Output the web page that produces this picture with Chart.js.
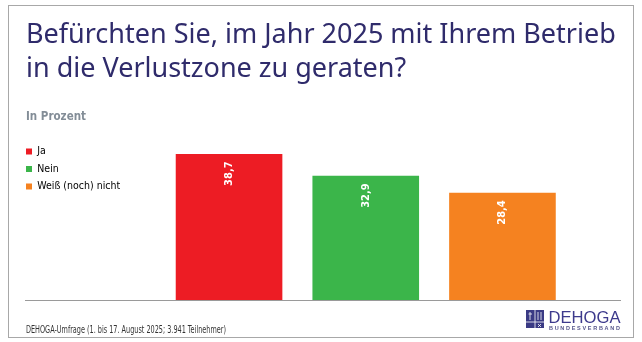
<!DOCTYPE html>
<html lang="de">
<head>
<meta charset="utf-8">
<script src="https://cdn.jsdelivr.net/npm/chart.js@4.4.1/dist/chart.umd.min.js"></script>
<style>
  html, body { margin: 0; padding: 0; background: #fff; }
  #wrap { width: 642px; height: 342px; }
</style>
</head>
<body>
<div id="wrap"><canvas id="chart" width="642" height="342"></canvas></div>
<script>
const TITLE_LINES = ["Befürchten Sie, im Jahr 2025 mit Ihrem Betrieb", "in die Verlustzone zu geraten?"];
const UNIT_LABEL = "In Prozent";
const CATEGORIES = ["Ja", "Nein", "Weiß (noch) nicht"];
const VALUES = [38.7, 32.9, 28.4];
const BAR_COLORS = ["#ed1c24", "#3bb54a", "#f58220"];
const SOURCE_NOTE = "DEHOGA-Umfrage (1. bis 17. August 2025; 3.941 Teilnehmer)";

const CONDENSED = '"DejaVu Sans Condensed", "Liberation Sans", sans-serif';
const PAD_LEFT = 26;
const PAD_RIGHT = 8;
const AREA_LEFT = 160.7;
const AREA_RIGHT = 570.8;

const framePlugin = {
  id: "frame",
  beforeDraw(chart) {
    const { ctx } = chart;
    ctx.save();
    ctx.fillStyle = "#fff";
    ctx.fillRect(0, 0, chart.width, chart.height);
    ctx.strokeStyle = "#a8a8a8";
    ctx.lineWidth = 1;
    ctx.strokeRect(8.5, 5.5, 625, 332);
    ctx.restore();
  },
  afterLayout(chart) {
    // squares line up with the title instead of sitting one label-padding in
    chart.legend.left -= chart.options.plugins.legend.labels.padding;
  },
  afterDatasetsDraw(chart) {
    const { ctx } = chart;
    const y0 = Math.round(chart.scales.y.getPixelForValue(0)) + 0.5;
    ctx.save();
    ctx.strokeStyle = "#9a9a9a";
    ctx.lineWidth = 1;
    ctx.beginPath();
    ctx.moveTo(25, y0);
    ctx.lineTo(621, y0);
    ctx.stroke();
    ctx.restore();
  },
};

const barValueLabels = {
  id: "barValueLabels",
  afterDatasetsDraw(chart) {
    const { ctx } = chart;
    const meta = chart.getDatasetMeta(0);
    ctx.save();
    ctx.fillStyle = "#fff";
    ctx.font = `bold 11px ${CONDENSED}`;
    ctx.textAlign = "right";
    ctx.textBaseline = "middle";
    meta.data.forEach((bar, i) => {
      ctx.save();
      ctx.translate(bar.x, bar.y + 7.5);
      ctx.rotate(-Math.PI / 2);
      ctx.fillText(VALUES[i].toFixed(1).replace(".", ","), 0, 0);
      ctx.restore();
    });
    ctx.restore();
  },
};

const footerPlugin = {
  id: "footer",
  afterDraw(chart) {
    const { ctx } = chart;
    ctx.save();
    ctx.fillStyle = "#333";
    ctx.font = `10px ${CONDENSED}`;
    ctx.textBaseline = "alphabetic";
    // the source line is set in a very narrow face; squeeze it to its width
    const squeeze = 200 / ctx.measureText(SOURCE_NOTE).width;
    ctx.save();
    ctx.translate(26, 332.5);
    ctx.scale(squeeze, 1);
    ctx.fillText(SOURCE_NOTE, 0, 0);
    ctx.restore();

    // DEHOGA logo
    ctx.fillStyle = "#3a3a84";
    ctx.fillRect(526, 310, 18, 18);
    ctx.strokeStyle = "#fff";
    ctx.lineWidth = 0.8;
    ctx.beginPath();
    ctx.moveTo(535, 310); ctx.lineTo(535, 328);
    ctx.moveTo(526, 322); ctx.lineTo(544, 322);
    ctx.moveTo(530, 312); ctx.lineTo(530, 320);
    ctx.moveTo(528.5, 314); ctx.lineTo(532, 314);
    ctx.moveTo(538, 312); ctx.lineTo(538, 320);
    ctx.moveTo(541, 312); ctx.lineTo(541, 320);
    ctx.moveTo(538, 324); ctx.lineTo(541, 327);
    ctx.moveTo(541, 324); ctx.lineTo(538, 327);
    ctx.stroke();

    ctx.fillStyle = "#3d3a8c";
    ctx.font = '17px "Liberation Sans", Arial, sans-serif';
    const brand = "DEHOGA";
    ctx.save();
    ctx.translate(548.5, 323);
    ctx.scale(72 / ctx.measureText(brand).width, 1);
    ctx.fillText(brand, 0, 0);
    ctx.restore();
    ctx.fillStyle = "#55558a";
    ctx.font = 'bold 5.5px "Liberation Sans", Arial, sans-serif';
    const word = "BUNDESVERBAND";
    const natural = ctx.measureText(word).width;
    ctx.letterSpacing = ((71 - natural) / (word.length - 1)).toFixed(2) + "px";
    ctx.fillText(word, 549, 330);
    ctx.restore();
  },
};

new Chart(document.getElementById("chart"), {
  type: "bar",
  data: {
    labels: CATEGORIES,
    datasets: [{
      data: VALUES,
      backgroundColor: BAR_COLORS,
      borderWidth: 0,
      categoryPercentage: 1,
      barPercentage: 0.78,
    }],
  },
  options: {
    responsive: false,
    animation: false,
    events: [],
    layout: { padding: { left: PAD_LEFT, right: PAD_RIGHT, top: 0, bottom: 42 } },
    scales: {
      x: { display: false },
      y: {
        position: "left",
        min: 0,
        max: 42.6,
        ticks: { display: false },
        grid: { display: false, drawTicks: false },
        border: { display: false },
        afterFit(scale) {
          scale.width = AREA_LEFT - PAD_LEFT - scale.chart.legend.width;
        },
      },
      yRight: {
        position: "right",
        ticks: { display: false },
        grid: { display: false, drawTicks: false },
        border: { display: false },
        afterFit(scale) {
          scale.width = 642 - PAD_RIGHT - AREA_RIGHT;
        },
      },
    },
    plugins: {
      title: {
        display: true,
        text: TITLE_LINES,
        align: "start",
        color: "#2f2b6b",
        font: { family: '"Noto Sans", sans-serif', size: 27, weight: "normal", lineHeight: 34.3 / 27 },
        padding: { top: 18.05, bottom: 10 },
      },
      subtitle: {
        display: true,
        text: UNIT_LABEL,
        align: "start",
        color: "#838d97",
        font: { family: CONDENSED, size: 11.5, weight: "bold", lineHeight: 1.2 },
        padding: { top: 13.3, bottom: 15.5 },
      },
      legend: {
        position: "left",
        align: "start",
        fullSize: false,
        labels: {
          boxWidth: 6,
          boxHeight: 6,
          padding: 7,
          color: "#333",
          font: { family: CONDENSED, size: 10.5 },
          generateLabels(chart) {
            return chart.data.labels.map((label, i) => ({
              text: label,
              fillStyle: BAR_COLORS[i],
              strokeStyle: BAR_COLORS[i],
              lineWidth: 0,
              hidden: false,
              index: i,
            }));
          },
        },
      },
      tooltip: { enabled: false },
    },
  },
  plugins: [framePlugin, barValueLabels, footerPlugin],
});
</script>
</body>
</html>
